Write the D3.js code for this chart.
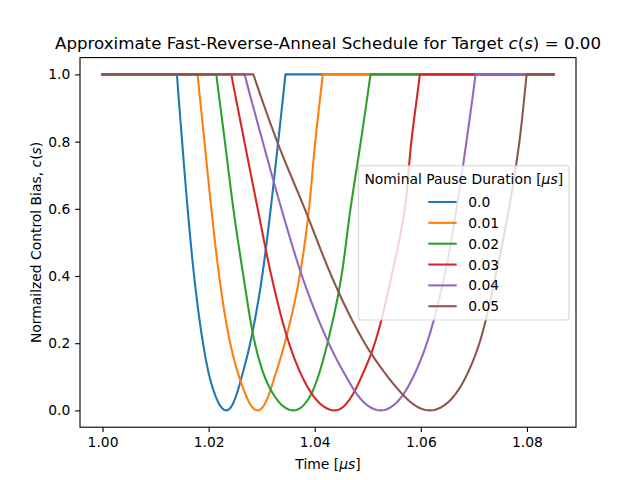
<!DOCTYPE html>
<html>
<head>
<meta charset="utf-8">
<script src="https://cdn.jsdelivr.net/npm/d3@7"></script>
<style>
	body { margin: 0; background: #fff; }
	svg { font-family: 'DejaVu Sans', sans-serif; }
</style>
</head>
<body>
<div class="chart-container"></div>
<script>
// values
const pauseLabels = ['0.0', '0.01', '0.02', '0.03', '0.04', '0.05'];
const colors = ['#1f77b4', '#ff7f0e', '#2ca02c', '#d62728', '#9467bd', '#8c564b'];

const startTime = 1.0;
const endTime = 1.085;

// bias levels at which the times were read, from the flat top down to the dip
const biasLevels = [1, 0.8, 0.6, 0.4, 0.2, 0.1, 0.05, 0];

// time where each curve crosses those levels on the way down ...
const fall00 = [1.01402, 1.01500, 1.01604, 1.01726, 1.01894, 1.02017, 1.02113, 1.02334];
const fall01 = [1.01792, 1.01921, 1.02051, 1.02198, 1.02406, 1.02575, 1.02689, 1.02925];
const fall02 = [1.02145, 1.02306, 1.02466, 1.02655, 1.02872, 1.03057, 1.03213, 1.03598];
const fall03 = [1.02428, 1.02674, 1.02925, 1.03183, 1.03515, 1.03764, 1.03943, 1.04377];
const fall04 = [1.02679, 1.03019, 1.03372, 1.03760, 1.04264, 1.04594, 1.04787, 1.05245];
const fall05 = [1.02843, 1.03292, 1.03811, 1.04315, 1.04943, 1.05377, 1.05642, 1.06170];

// ... and on the way back up (same level order)
const rise00 = [1.03447, 1.03311, 1.03170, 1.03009, 1.02783, 1.02623, 1.02532, 1.02334];
const rise01 = [1.04151, 1.04009, 1.03892, 1.03717, 1.03434, 1.03245, 1.03142, 1.02925];
const rise02 = [1.05051, 1.04868, 1.04674, 1.04504, 1.04240, 1.04062, 1.03938, 1.03598];
const rise03 = [1.05981, 1.05821, 1.05698, 1.05447, 1.05132, 1.04881, 1.04726, 1.04377];
const rise04 = [1.07032, 1.06860, 1.06672, 1.06445, 1.06113, 1.05857, 1.05679, 1.05245];
const rise05 = [1.07994, 1.07858, 1.07660, 1.07409, 1.07104, 1.06849, 1.06660, 1.06170];

const fallTimes = [fall00, fall01, fall02, fall03, fall04, fall05];
const riseTimes = [rise00, rise01, rise02, rise03, rise04, rise05];

const xTicks = [1.00, 1.02, 1.04, 1.06, 1.08];
const yTicks = [0.0, 0.2, 0.4, 0.6, 0.8, 1.0];

let margin = { top: 57.6, right: 64, bottom: 52.8, left: 80 },
	width = 640 - margin.left - margin.right,
	height = 480 - margin.top - margin.bottom;

let svg = d3
	.select('.chart-container')
	.append('svg')
	.attr('width', 640)
	.attr('height', 480);

let g = svg.append('g').attr('transform', 'translate(' + margin.left + ',' + margin.top + ')');

// matplotlib-style 5% margins
let xPad = (endTime - startTime) * 0.05;
let x = d3.scaleLinear().domain([ startTime - xPad, endTime + xPad ]).range([ 0, width ]);
let y = d3.scaleLinear().domain([ -0.05, 1.05 ]).range([ height, 0 ]);

// smooth one side of a dip: Hermite spline of time against sqrt(bias),
// so the bottom comes out round like the original
function sideCurve(times, steps) {
	let u = biasLevels.map((c) => Math.sqrt(c));
	let n = u.length;
	let sec = [];
	for (let k = 0; k < n - 1; k++) sec.push((times[k + 1] - times[k]) / (u[k + 1] - u[k]));
	let m = [];
	for (let k = 0; k < n; k++) {
		if (k === 0) m.push(sec[0]);
		else if (k === n - 1) m.push(sec[n - 2]);
		else m.push((sec[k - 1] + sec[k]) / 2);
	}
	let out = [];
	for (let k = 0; k < n - 1; k++) {
		let h = u[k + 1] - u[k];
		for (let j = 0; j < steps; j++) {
			let s = j / steps;
			let s2 = s * s,
				s3 = s2 * s;
			let t =
				(2 * s3 - 3 * s2 + 1) * times[k] +
				(s3 - 2 * s2 + s) * h * m[k] +
				(-2 * s3 + 3 * s2) * times[k + 1] +
				(s3 - s2) * h * m[k + 1];
			let uu = u[k] + s * h;
			out.push([ t, uu * uu ]);
		}
	}
	out.push([ times[n - 1], 0 ]);
	return out;
}

let line = d3
	.line()
	.x(function(d) {
		return x(d[0]);
	})
	.y(function(d) {
		return y(d[1]);
	});

fallTimes.forEach(function(fall, i) {
	let down = sideCurve(fall, 12);
	let up = sideCurve(riseTimes[i], 12).reverse();
	let pts = [ [ startTime, 1 ] ].concat(down, up.slice(1), [ [ endTime, 1 ] ]);
	g
		.append('path')
		.datum(pts)
		.attr('d', line)
		.attr('fill', 'none')
		.attr('stroke', colors[i])
		.attr('stroke-width', 2.08)
		.attr('stroke-linejoin', 'round')
		.attr('stroke-linecap', 'square');
});

// axes
let xAxis = g
	.append('g')
	.attr('transform', 'translate(0,' + height + ')')
	.call(d3.axisBottom(x).tickValues(xTicks).tickFormat(d3.format('.2f')).tickSize(4.86).tickPadding(4.86));
let yAxis = g
	.append('g')
	.call(d3.axisLeft(y).tickValues(yTicks).tickFormat(d3.format('.1f')).tickSize(4.86).tickPadding(4.86));

[ xAxis, yAxis ].forEach(function(a) {
	a.select('.domain').remove();
	a.selectAll('line').attr('stroke', '#000').attr('stroke-width', 1.1);
	a.selectAll('text').attr('font-family', "'DejaVu Sans', sans-serif").attr('font-size', 13.89).attr('fill', '#000');
});
xAxis.selectAll('text').attr('dy', '0.72em');

g
	.append('rect')
	.attr('width', width)
	.attr('height', height)
	.attr('fill', 'none')
	.attr('stroke', '#000')
	.attr('stroke-width', 1.1);

// legend
let legend = svg.append('g');
let lgX = 358.5,
	lgY = 165.7,
	lgW = 210.5,
	lgH = 154.3;
legend
	.append('rect')
	.attr('x', lgX)
	.attr('y', lgY)
	.attr('width', lgW)
	.attr('height', lgH)
	.attr('rx', 2.8)
	.attr('fill', '#fff')
	.attr('fill-opacity', 0.8)
	.attr('stroke', '#cccccc')
	.attr('stroke-opacity', 0.8)
	.attr('stroke-width', 1.1);

let lgTitle = legend
	.append('text')
	.attr('x', lgX + lgW / 2)
	.attr('y', 184)
	.attr('text-anchor', 'middle')
	.attr('font-size', 13.89);
lgTitle.append('tspan').text('Nominal Pause Duration [');
lgTitle.append('tspan').attr('font-style', 'italic').text('μs');
lgTitle.append('tspan').text(']');

pauseLabels.forEach(function(lab, i) {
	let ly = 202 + i * 20.85;
	legend
		.append('line')
		.attr('x1', 428.3)
		.attr('x2', 456.7)
		.attr('y1', ly)
		.attr('y2', ly)
		.attr('stroke', colors[i])
		.attr('stroke-width', 2.08);
	legend
		.append('text')
		.attr('x', 468.3)
		.attr('y', ly)
		.attr('dy', '0.36em')
		.attr('font-size', 13.89)
		.text(lab);
});

// title and axis labels
let title = svg
	.append('text')
	.attr('x', margin.left + width / 2)
	.attr('y', 49.3)
	.attr('text-anchor', 'middle')
	.attr('font-size', 16.67);
title.append('tspan').text('Approximate Fast-Reverse-Anneal Schedule for Target ');
title.append('tspan').attr('font-style', 'italic').text('c');
title.append('tspan').text('(');
title.append('tspan').attr('font-style', 'italic').text('s');
title.append('tspan').text(') = 0.00');

let xLabel = svg
	.append('text')
	.attr('x', margin.left + width / 2)
	.attr('y', 469)
	.attr('text-anchor', 'middle')
	.attr('font-size', 13.89);
xLabel.append('tspan').text('Time [');
xLabel.append('tspan').attr('font-style', 'italic').text('μs');
xLabel.append('tspan').text(']');

let yLabel = svg
	.append('text')
	.attr('transform', 'translate(41,' + (margin.top + height / 2) + ') rotate(-90)')
	.attr('text-anchor', 'middle')
	.attr('font-size', 13.89);
yLabel.append('tspan').text('Normailzed Control Bias, ');
yLabel.append('tspan').attr('font-style', 'italic').text('c');
yLabel.append('tspan').text('(');
yLabel.append('tspan').attr('font-style', 'italic').text('s');
yLabel.append('tspan').text(')');
</script>
</body>
</html>
